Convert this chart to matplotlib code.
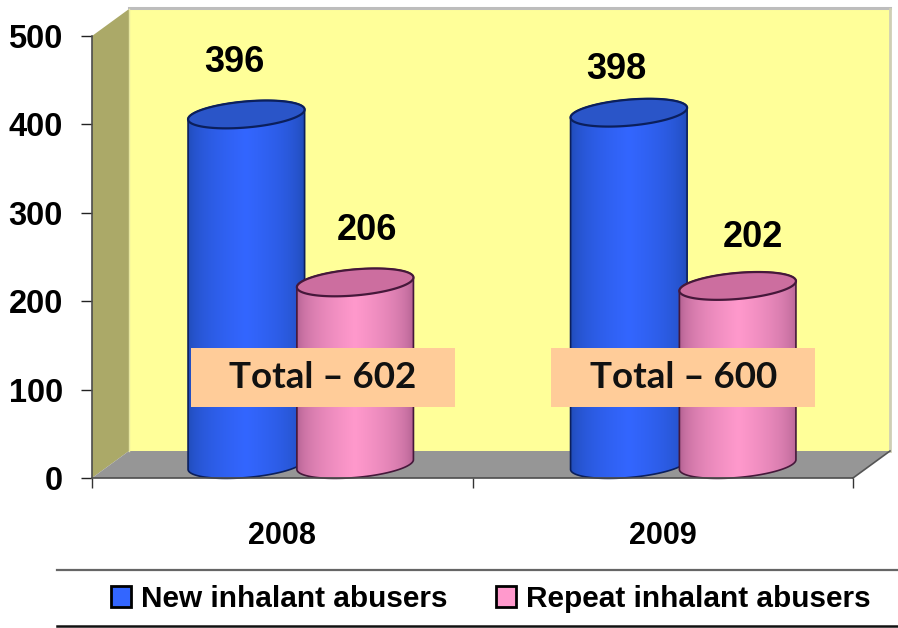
import matplotlib
matplotlib.use("Agg")
import matplotlib.pyplot as plt
from matplotlib.patches import Patch, Polygon, Rectangle
import numpy as np

years = ["2008", "2009"]
new_abusers = [396, 398]
repeat_abusers = [206, 202]
totals = ["Total – 602", "Total – 600"]
series_names = ["New inhalant abusers", "Repeat inhalant abusers"]
y_ticks = [0, 100, 200, 300, 400, 500]

plt.rcParams["font.family"] = ["Liberation Sans", "DejaVu Sans"]

W, H = 898, 628
fig = plt.figure(figsize=(W / 100, H / 100), dpi=100)
# plot box in pixels: x 92-853, y 36-478
ax = fig.add_axes([92 / W, 1 - 478 / H, (853 - 92) / W, (478 - 36) / H])
ax.set_xlim(0, 2)
ax.set_ylim(0, 500)

# pixel sizes expressed in data units
px = 2 / (853 - 92)
py = 500 / (478 - 36)
depth_x = 37 * px
depth_y = 27 * py


def wall(points, color, z):
    ax.add_patch(Polygon(points, closed=True, facecolor=color, edgecolor="none",
                         zorder=z, clip_on=False))


wall([(0, 0), (depth_x, depth_y), (depth_x, 500 + depth_y), (0, 500)], "#ABA968", 1)
wall([(depth_x, depth_y), (2 + depth_x, depth_y), (2 + depth_x, 500 + depth_y),
      (depth_x, 500 + depth_y)], "#FFFF99", 1)
wall([(0, 0), (2, 0), (2 + depth_x, depth_y), (depth_x, depth_y)], "#969696", 1.5)
ax.plot([depth_x, 2 + depth_x], [500 + depth_y + 1] * 2, color="#BDBDBD", lw=2.2,
        zorder=2, clip_on=False)
ax.plot([2 + depth_x, 2 + depth_x], [depth_y, 500 + depth_y], color="#CFCFB5", lw=2,
        zorder=2, clip_on=False)
ax.plot([2, 2 + depth_x], [0, depth_y], color="#555555", lw=1.2, zorder=2, clip_on=False)
ax.plot([depth_x, depth_x], [depth_y, 500 + depth_y], color="#E8E8A0", lw=1, zorder=2,
        clip_on=False)


def ring(cx, cy, t):
    # tilted ellipse, built in pixels and turned into data units
    a, b, tilt = 58.5, 13, np.radians(5)
    ex = a * np.cos(t) * np.cos(tilt) - b * np.sin(t) * np.sin(tilt)
    ey = a * np.cos(t) * np.sin(tilt) + b * np.sin(t) * np.cos(tilt)
    return np.column_stack([cx + ex * px, cy + ey * py])


def cylinder(cx, value, side, middle, top, line, z):
    base_y = depth_y / 2
    top_y = value + depth_y / 2
    lower = ring(cx, base_y, np.linspace(np.pi, 2 * np.pi, 60))
    upper = ring(cx, top_y, np.linspace(0, np.pi, 60))
    outline = np.vstack([lower, upper])
    ax.add_patch(Polygon(outline, closed=True, facecolor="none", edgecolor=line, lw=1.2,
                         zorder=z + 0.2, clip_on=False))
    rgb_side = np.array(matplotlib.colors.to_rgb(side))
    rgb_mid = np.array(matplotlib.colors.to_rgb(middle))
    u = np.linspace(0, 1, 120)
    mix = np.clip(1 - np.abs(u - 0.5) / 0.5, 0, 1) ** 0.4
    grad = rgb_side[None, :] * (1 - mix[:, None]) + rgb_mid[None, :] * mix[:, None]
    im = ax.imshow(grad[None, :, :], extent=[cx - 59 * px, cx + 59 * px, 0, top_y + 20],
                   aspect="auto", zorder=z, interpolation="bilinear")
    im.set_clip_path(Polygon(outline, closed=True, transform=ax.transData))
    cap = ring(cx, top_y, np.linspace(0, 2 * np.pi, 120))
    ax.add_patch(Polygon(cap, closed=True, facecolor=top, edgecolor=line, lw=1.6,
                         zorder=z + 0.4, clip_on=False))


positions = [0.5, 1.5]
shift = 0.143
label_dx = [[-12, 12], [-13, 15]]
label_dy = [[65, 65], [57, 62]]
box_shift = [40.5, 20.5]
for i, pos in enumerate(positions):
    centre = pos + depth_x / 2 + i * 2 * px
    cylinder(centre - shift, new_abusers[i], "#1C45A6", "#3366FF", "#2A55C8", "#0B1F5C", 3)
    cylinder(centre + shift, repeat_abusers[i], "#A25585", "#FF99CC", "#CC6E9F", "#45183A", 4)
    for j, val in enumerate([new_abusers[i], repeat_abusers[i]]):
        sign = -1 if j == 0 else 1
        ax.annotate(str(val), (centre + sign * shift, val),
                    xytext=(label_dx[i][j] * 0.72, label_dy[i][j] * 0.72),
                    textcoords="offset points", ha="center", va="center",
                    fontsize=26, fontweight="bold", color="black", zorder=8,
                    annotation_clip=False)
    # callout box with the yearly total
    box_x = pos + box_shift[i] * px
    box_w = 264 * px
    box_h = 59 * py
    box_y = 113.5
    ax.add_patch(Rectangle((box_x - box_w / 2, box_y - box_h / 2), box_w, box_h,
                           facecolor="#FFCC99", edgecolor="none", zorder=7))
    ax.text(box_x, box_y, totals[i], ha="center", va="center", fontsize=26.5,
            fontweight="bold", family=["Lato", "DejaVu Sans"], color="#111111", zorder=7.5)

ax.set_xlim(0, 2)
ax.set_ylim(0, 500)

for s in ["top", "right"]:
    ax.spines[s].set_visible(False)
for s in ["left", "bottom"]:
    ax.spines[s].set_color("#4D4D4D")
    ax.spines[s].set_linewidth(1.2)
    ax.spines[s].set_zorder(6)
ax.set_yticks(y_ticks)
ax.set_xticks([0, 1, 2])
ax.set_xticklabels([])
ax.set_xticks(positions, labels=years, minor=True)
ax.tick_params(axis="x", which="major", length=7.5, width=1, color="#333333")
ax.tick_params(axis="x", which="minor", length=0, pad=31)
ax.tick_params(axis="y", length=8, width=1, color="#222222", pad=13)
for lab in ax.get_xticklabels(minor=True):
    lab.set_fontsize(22)
    lab.set_fontweight("bold")
for lab in ax.get_yticklabels():
    lab.set_fontsize(23.5)
    lab.set_fontweight("bold")

# legend band
fig.add_artist(plt.Line2D([57 / W, 1], [1 - 569.5 / H] * 2, color="#666666", lw=1.6))
fig.add_artist(plt.Line2D([57 / W, 1], [1 - 626 / H] * 2, color="#111111", lw=1.8))
handles = [Patch(facecolor="#3366FF", edgecolor="black", lw=2),
           Patch(facecolor="#FF99CC", edgecolor="black", lw=2)]
fig.legend(handles, series_names, ncol=2, frameon=False, loc="center",
           bbox_to_anchor=(491 / W, 1 - 599 / H), prop=dict(size=21.4, weight="bold"),
           handlelength=0.67, handleheight=0.67, handletextpad=0.33, columnspacing=1.65)

fig.savefig("out.png", dpi=100)
